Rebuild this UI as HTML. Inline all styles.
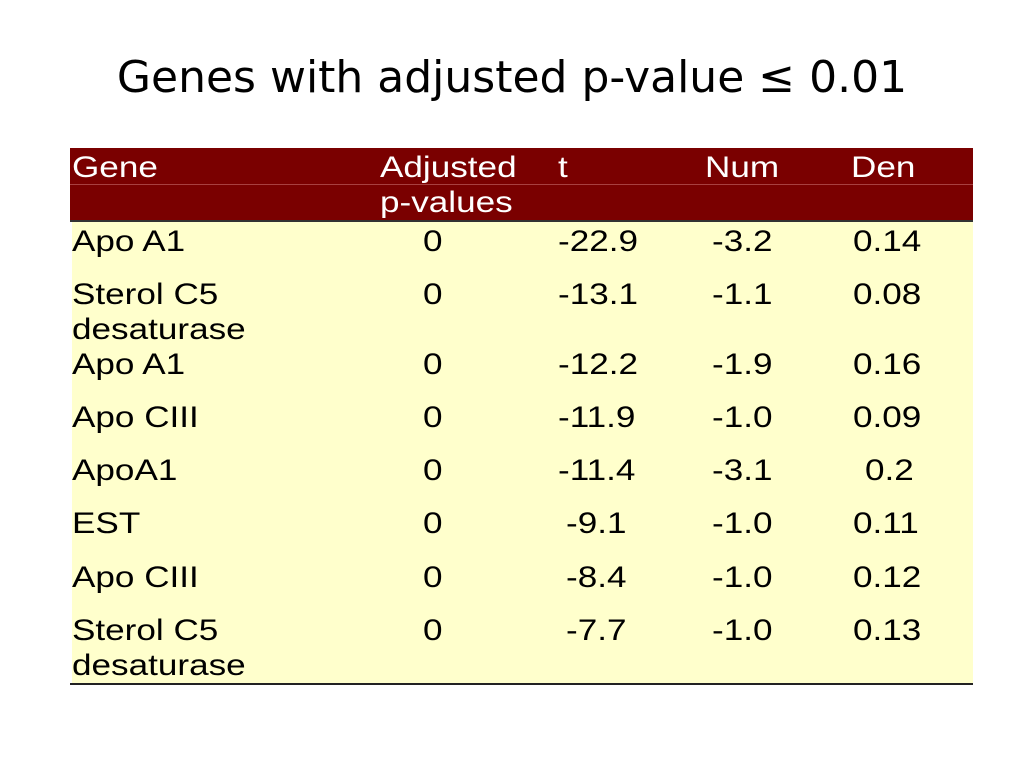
<!DOCTYPE html>
<html><head><meta charset="utf-8"><style>
body{margin:0;width:1024px;height:768px;background:#fff;position:relative;overflow:hidden;font-family:"Liberation Sans",sans-serif}
.t{position:absolute;font-size:30px;line-height:35px;white-space:nowrap;transform:scaleX(1.17);transform-origin:0 50%;color:#000}
.h{color:#fff}
#title{position:absolute;left:0;width:1024px;top:52px;text-align:center;font-family:"DejaVu Sans",sans-serif;font-size:44px;color:#000;white-space:nowrap}
</style></head><body>
<div id="title">Genes with adjusted p-value ≤ 0.01</div>
<div style="position:absolute;left:70px;top:148px;width:903px;height:72px;background:#7a0000"></div>
<div style="position:absolute;left:70px;top:184px;width:903px;height:1px;background:#a84040"></div>
<div style="position:absolute;left:72px;top:221px;width:901px;height:462px;background:#ffffcc"></div>
<div style="position:absolute;left:70px;top:683px;width:903px;height:2px;background:#222"></div>
<div style="position:absolute;left:70px;top:220px;width:903px;height:2px;background:#333"></div>
<div id="tbl"></div>
<script>
const genes=["Apo A1","Sterol C5|desaturase","Apo A1","Apo CIII","ApoA1","EST","Apo CIII","Sterol C5|desaturase"];
const pvals=["0","0","0","0","0","0","0","0"];
const tvals=["-22.9","-13.1","-12.2","-11.9","-11.4","-9.1","-8.4","-7.7"];
const nums=["-3.2","-1.1","-1.9","-1.0","-3.1","-1.0","-1.0","-1.0"];
const dens=["0.14","0.08","0.16","0.09","0.2","0.11","0.12","0.13"];
const rowTops=[224,277,347,400,453,506,560,613];
const tbl=document.getElementById('tbl');
function add(txt,x,y,cls,name){
  const d=document.createElement('div');
  d.className='t '+(cls||'');
  
  
  d.style.left=x+'px';d.style.top=y+'px';
  d.innerHTML=txt.replace('|','<br>');
  tbl.appendChild(d);
}
add('Gene',72,150,'h','header-gene');
add('Adjusted|p-values',380,150,'h','header-adjusted-p-values');
add('t',558,150,'h','header-t');
add('Num',705,150,'h','header-num');
add('Den',851,150,'h','header-den');
genes.forEach((g,i)=>{
  const y=rowTops[i];
  add(g,72,y,'','gene-cell');
  add(pvals[i],423,y,'','pvalue-cell');
  add(tvals[i],tvals[i].length<5?566:558,y,'','t-cell');
  add(nums[i],712,y,'','num-cell');
  add(dens[i],dens[i].length<4?865:853,y,'','den-cell');
});
</script>
</body></html>
